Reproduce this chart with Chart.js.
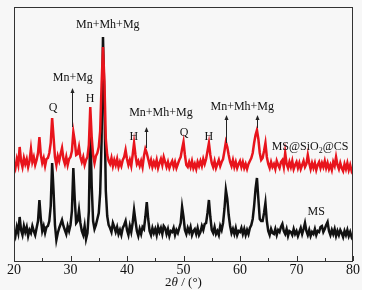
<!DOCTYPE html>
<html><head><meta charset="utf-8">
<script src="https://cdn.jsdelivr.net/npm/chart.js@4.4.0/dist/chart.umd.min.js"></script>
<style>html,body{margin:0;padding:0;background:#fff;}#wrap{width:385px;height:293px;position:relative;}</style>
</head><body><div id="wrap"><canvas id="c" width="385" height="293"></canvas></div>
<script>
// 2θ grid: 20° to 80°, 0.25° step
const angleStart = 20, angleStep = 0.25;
// MS (black)
const msCounts = [
30,25,34,28, 44,31,26,35, 29,34,25,31, 28,35,30,26, 33,40,61,42,
30,35,28,34, 35,40,55,98, 70,36,21,28, 33,37,41,35, 31,27,35,30,
36,50,93,62, 38,40,51,38, 30,26,35,22, 28,50,135,75, 40,32,36,42,
48,68,120,224, 160,70,45,36, 33,29,38,34, 29,34,27,31, 26,33,36,40,
31,26,35,29, 38,51,40,30, 25,32,27,34, 32,44,59,42, 30,26,33,28,
32,26,34,29, 33,27,35,33, 27,32,25,30, 29,33,26,31, 28,33,38,54,
44,31,27,33, 29,34,26,30, 32,27,33,26, 29,35,31,37, 38,48,61,44,
31,28,34,27, 30,26,35,31, 38,52,71,62, 46,35,28,32, 27,33,26,30,
29,33,27,32, 26,31,27,33, 36,42,55,72, 83,62,42,40, 40,48,58,40,
30,26,32,28, 27,32,26,31, 29,34,37,30, 27,32,25,30, 29,26,32,27,
30,25,29,33, 27,32,38,30, 26,31,25,29, 27,32,26,30, 29,34,35,29,
32,36,39,30, 26,31,27,32, 25,30,26,31, 28,24,30,26, 31,25,29,24,
27
];
// MS@SiO2@CS (red)
const coatedCounts = [
98,93,102,96, 114,100,94,103, 97,102,94,100, 112,99,104,96, 101,108,124,106,
98,103,95,102, 103,108,118,143, 124,104,96,105, 100,107,113,102, 97,104,96,102,
104,110,129,120, 106,107,114,104, 99,104,96,101, 104,116,154,124, 106,98,105,108,
114,130,176,214, 180,122,106,100, 97,103,95,101, 96,102,94,99, 95,101,104,111,
102,96,101,95, 106,118,106,97, 100,95,100,94, 105,112,108,102, 96,101,94,99,
95,101,93,98, 102,96,104,99, 94,99,93,97, 100,94,99,93, 97,101,104,112,
119,106,96,94, 99,94,100,93, 97,92,99,95, 100,95,102,97, 102,110,118,106,
98,94,100,93, 97,101,95,99, 102,110,119,114, 106,99,95,101, 94,99,93,97,
100,94,99,93, 97,92,97,100, 103,108,118,126, 131,122,108,101, 103,110,118,104,
97,93,99,94, 97,92,100,96, 93,99,101,94, 108,97,93,99, 94,100,92,96,
99,93,98,92, 96,100,94,97, 106,98,92,98, 93,98,91,96, 99,93,98,94,
100,93,98,92, 96,91,99,95, 104,96,92,98, 93,90,97,92, 98,91,96,90,
93
];
const xTicks = [20,30,40,50,60,70,80];
const xMinorTicks = [25,35,45,55,65,75];

// annotation layout (data coordinates)
const peakLabels = [
  {t:'Q', x:26.9, y:153}, {t:'Mn+Mg', x:30.4, y:183}, {t:'H', x:33.45, y:162},
  {t:'Mn+Mh+Mg', x:36.6, y:236}, {t:'H', x:41.2, y:124}, {t:'Mn+Mh+Mg', x:46.0, y:148},
  {t:'Q', x:50.1, y:128}, {t:'H', x:54.5, y:124}, {t:'Mn+Mh+Mg', x:60.4, y:154},
  {t:'MS', x:73.5, y:49}
];
const arrows = [
  {x:30.27, y0:134, y1:173}, {x:43.4, y0:113, y1:134},
  {x:57.45, y0:118, y1:146}, {x:62.95, y0:133, y1:146}
];
const coatedLabel = {x:72.4, y:114};

const toPts = arr => arr.map((v,i)=>({x: angleStart + i*angleStep, y: v}));
const serif = '"Liberation Serif", "Times New Roman", serif';

const deco = {
  id:'deco',
  beforeDraw(chart){
    const c = chart.ctx;
    c.save();
    c.fillStyle = '#fff'; c.fillRect(0,0,chart.width,chart.height);
    c.fillStyle = '#f7f7f7'; c.fillRect(0,0,362,290);
    c.restore();
  },
  afterDatasetsDraw(chart){
    const c = chart.ctx, a = chart.chartArea, xs = chart.scales.x, ys = chart.scales.y;
    c.save();
    c.strokeStyle = '#333'; c.lineWidth = 1;
    c.strokeRect(Math.round(a.left)+0.5, Math.round(a.top)+0.5, Math.round(a.right-a.left)-1, Math.round(a.bottom-a.top));
    c.beginPath();
    xTicks.forEach(v=>{const px=Math.round(xs.getPixelForValue(v))+0.5; c.moveTo(px,a.bottom); c.lineTo(px,a.bottom-5);});
    xMinorTicks.forEach(v=>{const px=Math.round(xs.getPixelForValue(v))+0.5; c.moveTo(px,a.bottom); c.lineTo(px,a.bottom-3);});
    c.stroke();
    c.strokeStyle = '#222'; c.fillStyle = '#222';
    arrows.forEach(ar=>{
      const px = Math.round(xs.getPixelForValue(ar.x))+0.5;
      const yb = ys.getPixelForValue(ar.y0), yt = ys.getPixelForValue(ar.y1);
      c.beginPath(); c.moveTo(px,yb); c.lineTo(px,yt+3); c.stroke();
      c.beginPath(); c.moveTo(px,yt); c.lineTo(px-2,yt+5); c.lineTo(px+2,yt+5); c.closePath(); c.fill();
    });
    c.fillStyle = '#111'; c.font = '12px ' + serif; c.textAlign='center'; c.textBaseline='middle';
    peakLabels.forEach(l=>c.fillText(l.t, xs.getPixelForValue(l.x), ys.getPixelForValue(l.y)));
    const p1='MS@SiO', p2='2', p3='@CS';
    c.font='12px '+serif; const w1=c.measureText(p1).width, w3=c.measureText(p3).width;
    c.font='8px '+serif; const w2=c.measureText(p2).width;
    const tw=w1+w2+w3; let sx=xs.getPixelForValue(coatedLabel.x)-tw/2; const sy=ys.getPixelForValue(coatedLabel.y);
    c.textAlign='left';
    c.font='12px '+serif; c.fillText(p1,sx,sy); sx+=w1;
    c.font='8px '+serif; c.fillText(p2,sx,sy+4); sx+=w2;
    c.font='12px '+serif; c.fillText(p3,sx,sy);
    const tA='2', tB='θ', tC=' / (°)';
    c.font='13px '+serif; const wa=c.measureText(tA).width, wc=c.measureText(tC).width;
    c.font='italic 13px '+serif; const wb=c.measureText(tB).width;
    let tx=(a.left+a.right)/2-(wa+wb+wc)/2; const ty=283;
    c.font='13px '+serif; c.fillText(tA,tx,ty); tx+=wa;
    c.font='italic 13px '+serif; c.fillText(tB,tx,ty); tx+=wb;
    c.font='13px '+serif; c.fillText(tC,tx,ty);
    c.restore();
  }
};

new Chart(document.getElementById('c'), {
  type:'line',
  data:{datasets:[
    {label:'MS@SiO2@CS', data:toPts(coatedCounts), borderColor:'#e8141c', borderWidth:2.5, pointRadius:0, tension:0, fill:false},
    {label:'MS', data:toPts(msCounts), borderColor:'#111', borderWidth:2.5, pointRadius:0, tension:0, fill:false}
  ]},
  options:{
    responsive:false, animation:false, devicePixelRatio:1,
    layout:{padding:{left:14,right:32,top:7,bottom:0}},
    plugins:{legend:{display:false}, tooltip:{enabled:false}},
    scales:{
      x:{type:'linear', min:20, max:80,
         afterBuildTicks: s=>{ s.ticks = xTicks.map(v=>({value:v})); },
         afterFit: s=>{ s.height = 32; },
         ticks:{font:{family:serif,size:14}, color:'#111', padding:1, maxRotation:0, autoSkip:false},
         grid:{display:false, drawTicks:false}, border:{display:false}},
      y:{display:false, min:0, max:254}
    }
  },
  plugins:[deco]
});
</script></body></html>
